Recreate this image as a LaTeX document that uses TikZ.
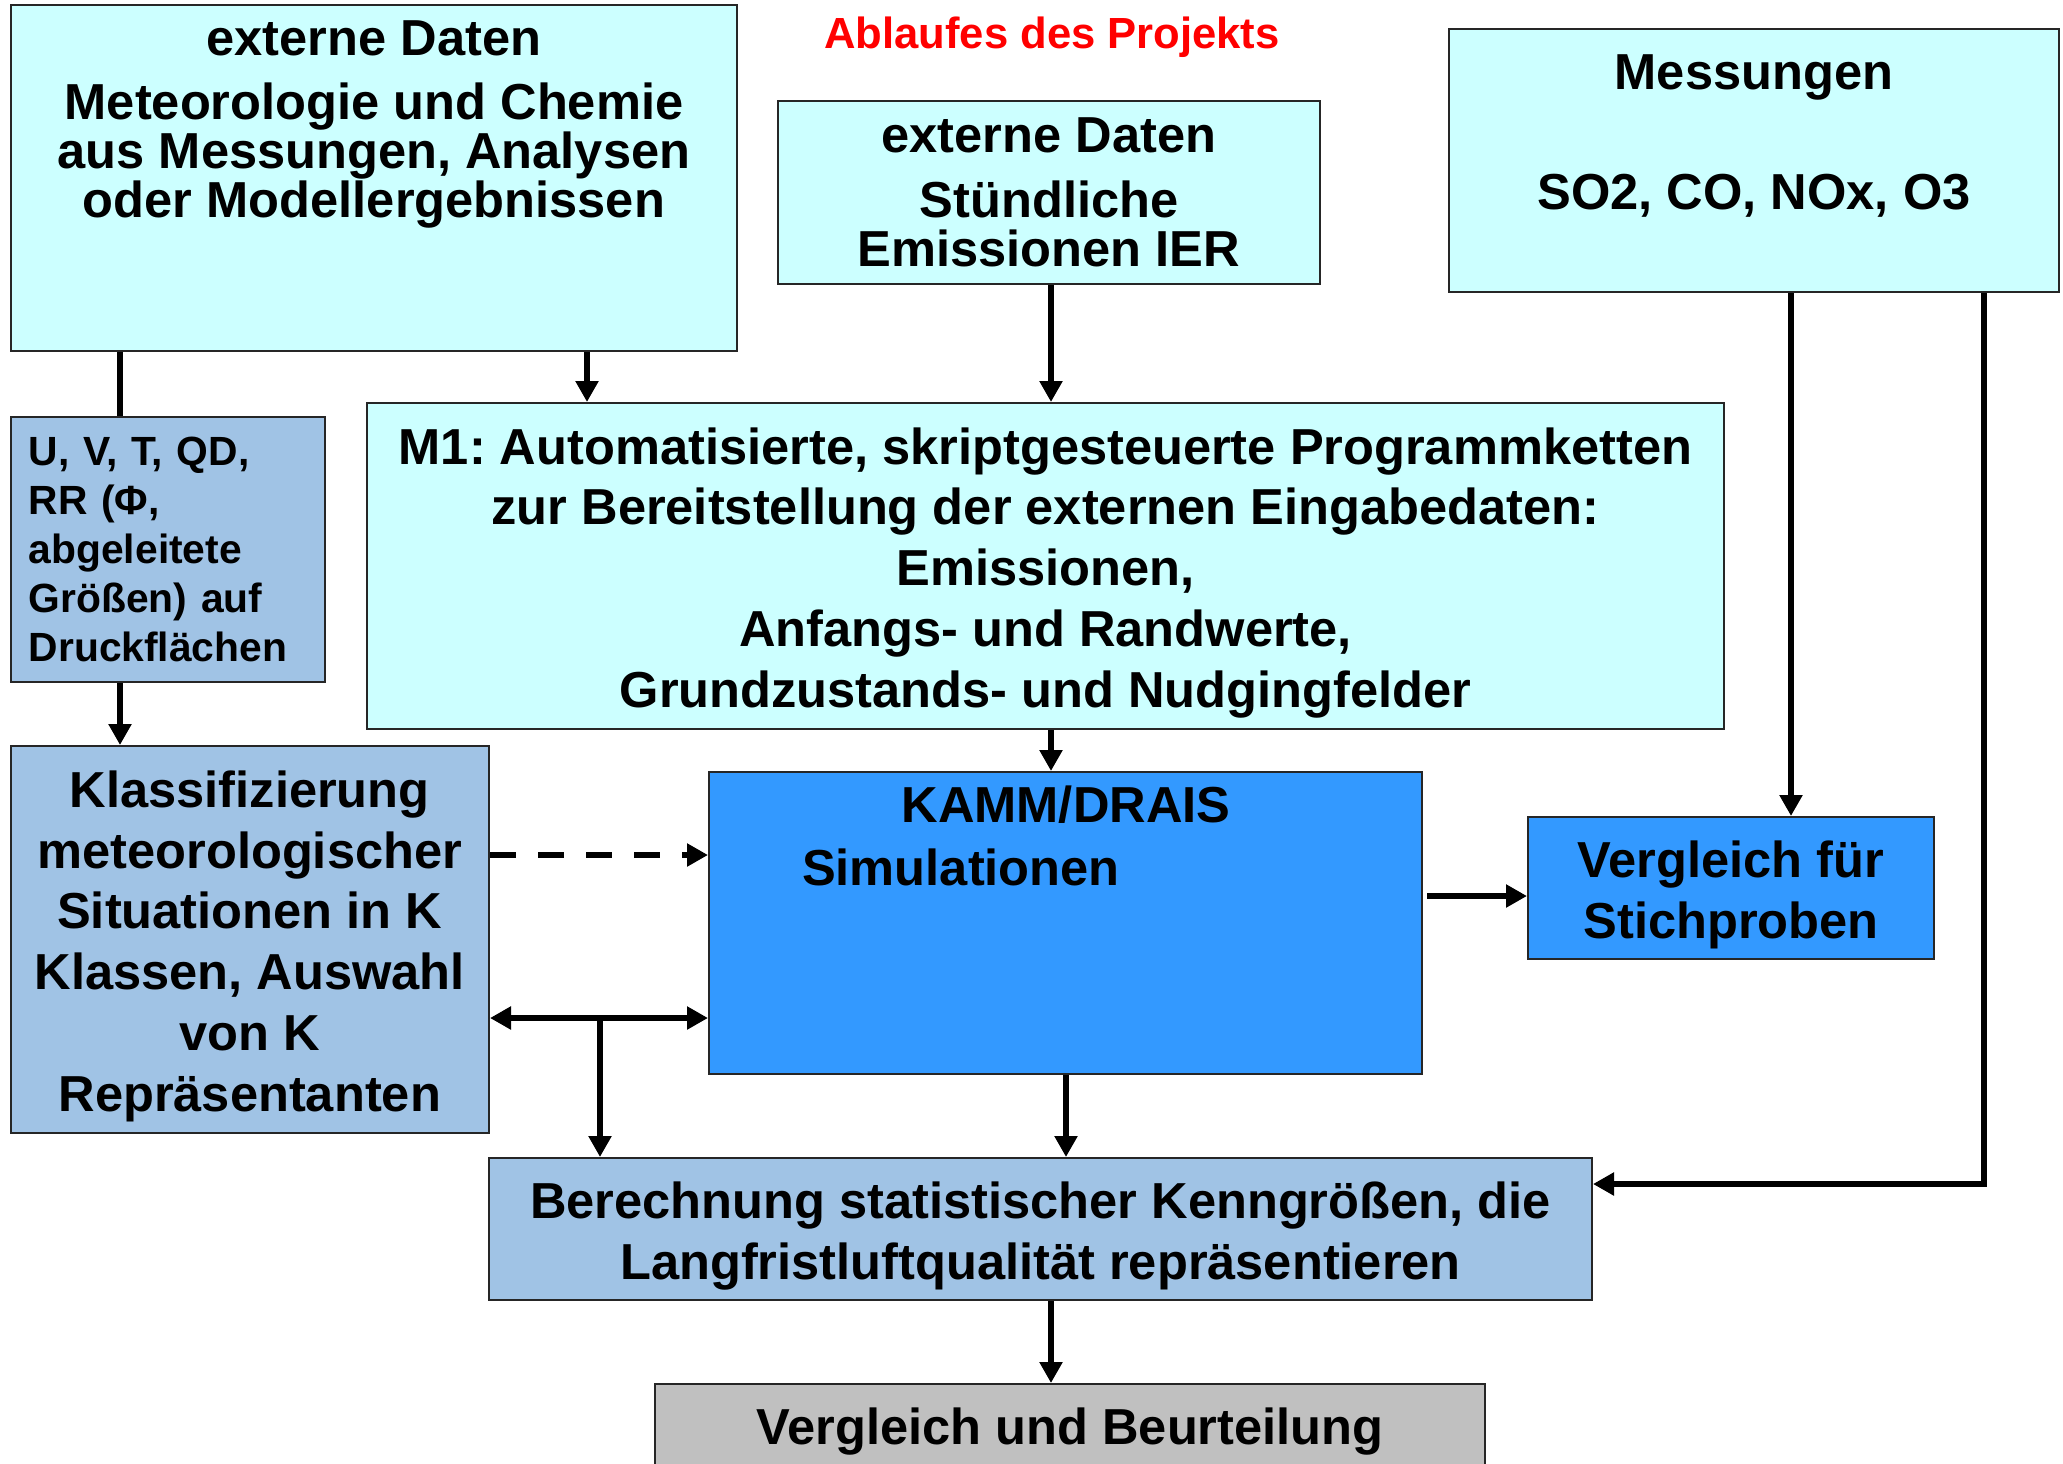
\documentclass[tikz,border=0pt]{standalone}
\usepackage{fontspec}
\setmainfont{Liberation Sans}
\usepackage{xcolor}
\usepackage{tikz}
\usetikzlibrary{arrows.meta}
\usetikzlibrary{positioning}
\definecolor{hellcyan}{HTML}{CCFFFF}
\definecolor{hellblau}{HTML}{A0C3E5}
\definecolor{mittelblau}{HTML}{3399FF}
\definecolor{hellgrau}{HTML}{C0C0C0}
\lineskiplimit=-30pt
\frenchspacing
\newcommand{\hoch}{\rule{0pt}{25pt}}
\tikzset{>={Triangle[length=10.5pt,width=11pt]}}
\tikzstyle{kasten} = [draw=black!85, line width=1pt, inner sep=0, align=center, font=\bfseries\fontsize{25.3}{30.4}\selectfont]
\tikzstyle{schrift} = [draw=none, inner sep=0, align=center, font=\bfseries\fontsize{25.3}{30.4}\selectfont]
\tikzstyle{eng} = [font=\bfseries\fontsize{25.3}{24.5}\selectfont]
\tikzstyle{pfeil} = [->, line width=3pt]
\tikzstyle{linie} = [-, line width=3pt]

\begin{document}
\begin{tikzpicture}[x=0.5pt, y=-0.5pt]
\useasboundingbox (0,0) rectangle (2063,1463);
\clip (0,0) rectangle (2063,1463);
%\node [draw=none, text=red] at (1052,-20) {...};
\node [draw=none, inner sep=0, text=red, font=\bfseries\fontsize{21.8}{26}\selectfont] (titel) at (1052, 37) {Ablaufes des Projekts};

% Eingaben oben
\node [kasten, fill=hellcyan, minimum width=363.25pt, minimum height=173pt] (extMet) at (374, 178) {};
\node [schrift, eng, anchor=north] (lblMet) at (374, 20) {externe Daten\\[7.5pt] Meteorologie und Chemie\\ aus Messungen, Analysen\\ oder Modellergebnissen};
\node [kasten, eng, fill=hellcyan, minimum width=271pt, minimum height=91.5pt] (extEmi) at (1049, 192.5) {externe Daten\\[8pt] Stündliche\\ Emissionen IER};
\node [kasten, fill=hellcyan, minimum width=305pt, minimum height=131.5pt] (mess) at (1754, 160.5) {};
\node [schrift] (lblMess) at (1754, 136) {Messungen\\[30pt] SO2, CO, NOx, O3};

% mittlere Ebene
\node [kasten, fill=hellblau, minimum width=157.25pt, minimum height=132.5pt, align=left, text width=139pt, font=\bfseries\fontsize{20.4}{24.5}\selectfont] (felder) at (167.75, 549.5) {U, V, T, QD,\\ RR (Φ,\\ abgeleitete\\ Größen) auf\\ Druckflächen};
\node [kasten, fill=hellcyan, minimum width=678.5pt, minimum height=163pt] (mOne) at (1045.5, 566) {\hoch M1: Automatisierte, skriptgesteuerte Programmketten\\ zur Bereitstellung der externen Eingabedaten:\\ Emissionen,\\ Anfangs- und Randwerte,\\ Grundzustands- und Nudgingfelder};
\node [kasten, fill=hellblau, minimum width=239.25pt, minimum height=193.5pt] (klass) at (249.75, 939.5) {\hoch Klassifizierung\\ meteorologischer\\ Situationen in K\\ Klassen, Auswahl\\ von K\\ Repräsentanten};
\node [kasten, fill=mittelblau, minimum width=356.5pt, minimum height=151pt] (kamm) at (1065.5, 923) {};
\node [schrift] (lblKamm) at (1066, 805) {KAMM/DRAIS};
\node [schrift] (lblSim) at (961, 867) {Simulationen};
\node [kasten, fill=mittelblau, minimum width=203pt, minimum height=71pt] (stich) at (1731, 888) {\hoch Vergleich für\\ Stichproben};

% Auswertung
\node [kasten, fill=hellblau, minimum width=551.5pt, minimum height=71pt] (stat) at (1040.5, 1229) {\hoch Berechnung statistischer Kenngrößen, die\\ Langfristluftqualität repräsentieren};
\node [kasten, fill=hellgrau, minimum width=415pt, minimum height=48pt] (beurt) at (1070, 1432) {Vergleich und Beurteilung};

% Spalten und Zeilen der Verbinder
\coordinate (sA) at (120, 0);
\coordinate (sB) at (587, 0);
\coordinate (sC) at (1051, 0);
\coordinate (sD) at (1066, 0);
\coordinate (sE) at (600, 0);
\coordinate (sF) at (1791, 0);
\coordinate (sG) at (1984, 0);
\coordinate (zA) at (0, 855);
\coordinate (zB) at (0, 1018);
\coordinate (zC) at (0, 896);
\coordinate (zD) at (0, 1184);

\draw [linie] (sA |- extMet.south) to (sA |- felder.north);
\draw [pfeil] (sA |- felder.south) to (sA |- klass.north);
\draw [pfeil] (sB |- extMet.south) to (sB |- mOne.north);
\draw [pfeil] (sC |- extEmi.south) to (sC |- mOne.north);
\draw [pfeil] (sC |- mOne.south) to (sC |- kamm.north);
\draw [pfeil, dash pattern=on 13pt off 11pt] (zA -| klass.east) to (zA -| kamm.west);
\draw [<->, line width=3pt] (zB -| klass.east) to (zB -| kamm.west);
\draw [pfeil] (zB -| sE) to (sE |- stat.north);
\draw [pfeil] (sD |- kamm.south) to (sD |- stat.north);
\draw [pfeil] ([xshift=2pt]zC -| kamm.east) to (zC -| stich.west);
\draw [pfeil] (sF |- mess.south) to (sF |- stich.north);
\draw [pfeil] (sG |- mess.south) |- (zD -| stat.east);
\draw [pfeil] (sC |- stat.south) to (sC |- beurt.north);
\end{tikzpicture}
\end{document}
